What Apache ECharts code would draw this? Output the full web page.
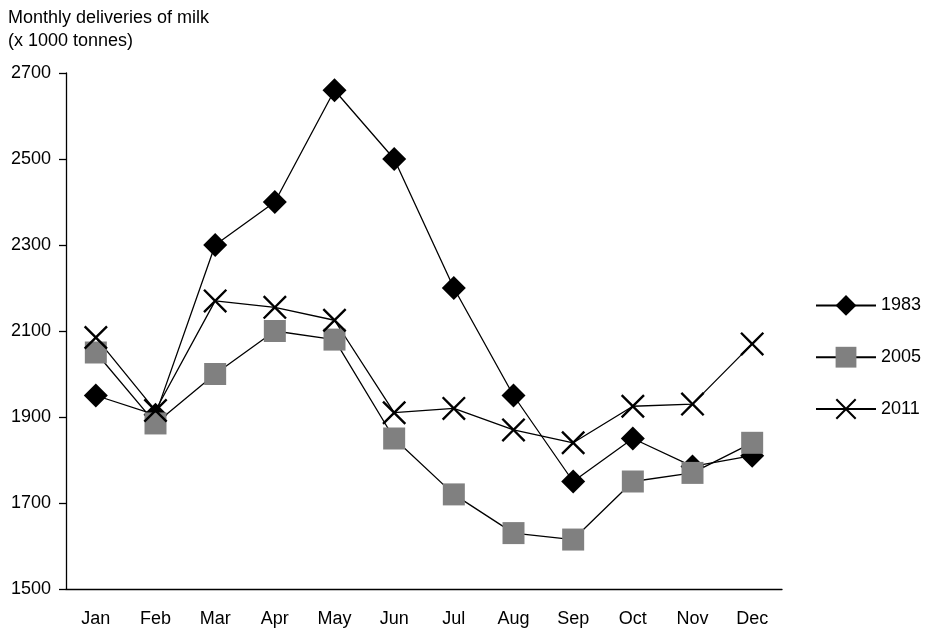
<!DOCTYPE html>
<html>
<head>
<meta charset="utf-8">
<script src="https://cdn.jsdelivr.net/npm/echarts@6/dist/echarts.min.js"></script>
<style>
  html, body { margin: 0; padding: 0; background: #fff; }
  #chart { width: 929px; height: 628px; }
</style>
</head>
<body>
<div id="chart"></div>
<script>
// data
const months = ['Jan', 'Feb', 'Mar', 'Apr', 'May', 'Jun', 'Jul', 'Aug', 'Sep', 'Oct', 'Nov', 'Dec'];
const y1983 = [1950, 1905, 2300, 2400, 2660, 2500, 2200, 1950, 1750, 1850, 1785, 1810];
const y2005 = [2050, 1885, 2000, 2100, 2080, 1850, 1720, 1630, 1615, 1750, 1770, 1840];
const y2011 = [2085, 1915, 2170, 2155, 2125, 1910, 1920, 1870, 1840, 1925, 1930, 2070];

const font = "'Liberation Sans', Arial, Helvetica, sans-serif";
// filled X shape for the 2011 markers
const crossPath = 'path://M0,7L7,0L50,43L93,0L100,7L57,50L100,93L93,100L50,57L7,100L0,93L43,50Z';

const chart = echarts.init(document.getElementById('chart'));

const lineStyle = { color: '#000', width: 1.3 };

const option = {
  animation: false,
  backgroundColor: '#fff',
  textStyle: { fontFamily: font, color: '#000' },
  title: {
    text: 'Monthly deliveries of milk\n(x 1000 tonnes)',
    left: 3,
    top: 2,
    textStyle: { fontFamily: font, fontSize: 18, fontWeight: 'normal', color: '#000', lineHeight: 23 }
  },
  legend: {
    orient: 'vertical',
    left: 810,
    top: 290,
    itemWidth: 60,
    itemHeight: 26,
    itemGap: 31,
    textStyle: { fontFamily: font, fontSize: 18, color: '#000', padding: [0, 0, 0, 0] },
    data: ['1983', '2005', '2011']
  },
  grid: { left: 66, right: 147, top: 73, bottom: 39 },
  xAxis: {
    type: 'category',
    data: months,
    boundaryGap: true,
    axisLine: { lineStyle: { color: '#000', width: 1.3 } },
    axisTick: { length: 7, lineStyle: { color: '#000', width: 1.3 } },
    axisLabel: { fontFamily: font, fontSize: 18, color: '#000', margin: 21 }
  },
  yAxis: {
    type: 'value',
    min: 1500,
    max: 2700,
    interval: 200,
    axisLine: { show: true, lineStyle: { color: '#000', width: 1.3 } },
    axisTick: { show: true, length: 7, lineStyle: { color: '#000', width: 1.3 } },
    splitLine: { show: false },
    axisLabel: { fontFamily: font, fontSize: 18, color: '#000', margin: 15, formatter: (v) => String(v) }
  },
  series: [
    {
      name: '1983',
      type: 'line',
      data: y1983,
      symbol: 'diamond',
      symbolSize: 24,
      itemStyle: { color: '#000' },
      lineStyle: lineStyle
    },
    {
      name: '2005',
      type: 'line',
      data: y2005,
      symbol: 'rect',
      symbolSize: 22,
      itemStyle: { color: '#808080' },
      lineStyle: lineStyle
    },
    {
      name: '2011',
      type: 'line',
      data: y2011,
      symbol: crossPath,
      symbolSize: 24,
      itemStyle: { color: '#000' },
      lineStyle: lineStyle
    }
  ]
};

chart.setOption(option);
</script>
</body>
</html>
